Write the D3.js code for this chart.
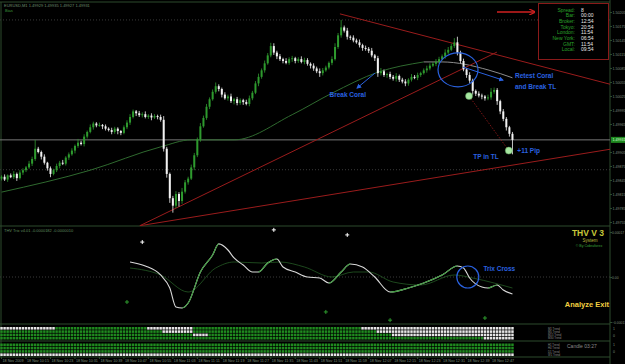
<!DOCTYPE html>
<html>
<head>
<meta charset="utf-8">
<script src="https://cdn.jsdelivr.net/npm/d3@7"></script>
<style>
  body { margin: 0; background: #000; }
  svg { display: block; font-family: "Liberation Sans", Arial, sans-serif; }
</style>
</head>
<body>
<div id="chart"></div>
<script>
// EURUSD M1 candles (open = previous close)
const firstOpen = 1.49848;
const closes = [
  1.49852, 1.49846, 1.49855, 1.49851, 1.49858, 1.49849, 1.49861, 1.49866, 1.49872, 1.49880,
  1.49890, 1.49912, 1.49905, 1.49895, 1.49882, 1.49870, 1.49858, 1.49866, 1.49875, 1.49882,
  1.49880, 1.49893, 1.49900, 1.49908, 1.49918, 1.49925, 1.49922, 1.49938, 1.49948, 1.49958,
  1.49966, 1.49962, 1.49963, 1.49960, 1.49955, 1.49952, 1.49948, 1.49955, 1.49950, 1.49946,
  1.49958, 1.49968, 1.49980, 1.49992, 1.49988, 1.49984, 1.49986, 1.49980, 1.49983, 1.49979,
  1.49982, 1.49980, 1.49974, 1.49912, 1.49858, 1.49806, 1.49790, 1.49815, 1.49800, 1.49820,
  1.49840, 1.49848, 1.49872, 1.49898, 1.49932, 1.49960, 1.49978, 1.50002, 1.50018, 1.50034,
  1.50046, 1.50040, 1.50028, 1.50020, 1.50024, 1.50014, 1.50018, 1.50010, 1.50016, 1.50012,
  1.50008, 1.50020, 1.50032, 1.50052, 1.50066, 1.50080, 1.50095, 1.50112, 1.50132, 1.50118,
  1.50110, 1.50104, 1.50100, 1.50096, 1.50104, 1.50106, 1.50100, 1.50104, 1.50098, 1.50102,
  1.50094, 1.50090, 1.50084, 1.50078, 1.50074, 1.50080, 1.50086, 1.50096, 1.50104, 1.50130,
  1.50155, 1.50172, 1.50165, 1.50152, 1.50150, 1.50144, 1.50140, 1.50134, 1.50128, 1.50126,
  1.50122, 1.50112, 1.50106, 1.50074, 1.50078, 1.50070, 1.50072, 1.50066, 1.50062, 1.50068,
  1.50060, 1.50056, 1.50052, 1.50060, 1.50066, 1.50064, 1.50070, 1.50074, 1.50080, 1.50084,
  1.50090, 1.50094, 1.50098, 1.50104, 1.50110, 1.50118, 1.50124, 1.50132, 1.50140, 1.50118,
  1.50100, 1.50082, 1.50070, 1.50058, 1.50036, 1.50030, 1.50026, 1.50024, 1.50020, 1.50022,
  1.50034, 1.50038, 1.50014, 1.49992, 1.49976, 1.49958, 1.49944, 1.49931
];
// wick lengths beyond the body, in points (0.00001)
const wickUp = [
  3,5,2,4,6,3,5,4,3,6, 5,19,4,3,5,2,4,3,5,4, 6,3,4,5,3,8,4,5,3,6, 4,3,5,2,4,3,5,4,3,2,
  4,5,6,4,3,5,4,6,3,5, 4,3,5,8,4,3,5,6,4,8, 5,4,6,5,4,7,5,6,4,5, 8,4,3,5,4,6,3,5,4,3,
  5,6,4,5,7,4,6,5,7,6, 4,5,3,6,4,5,3,4,6,5, 4,3,5,4,6,5,4,3,6,8, 5,16,4,6,3,5,4,6,3,5,
  4,6,3,5,7,4,3,5,4,6, 3,4,5,3,6,4,5,3,4,6, 5,4,6,5,4,7,6,5,9,12, 4,5,3,6,4,3,5,4,3,6,
  8,5,4,3,5,4,3,4
];
const wickDn = [
  4,3,5,2,4,6,3,5,4,3, 5,4,3,6,4,5,7,3,4,5, 3,4,5,3,6,4,3,5,4,3, 5,4,3,6,4,3,5,4,7,5,
  3,4,5,3,6,4,5,3,4,6, 3,5,4,6,8,10,15,5,12,6, 4,5,3,6,4,5,3,4,5,3, 4,5,6,3,5,4,7,5,4,6,
  3,5,4,3,6,4,5,3,4,5, 6,4,5,3,4,6,5,4,3,5, 4,6,5,4,8,5,3,4,5,3, 4,5,4,6,5,4,3,5,6,4,
  5,4,6,8,5,4,6,5,4,6, 5,4,6,5,4,3,5,4,3,5, 4,3,5,4,3,5,4,3,4,6, 5,4,6,5,8,5,4,6,5,4,
  5,4,8,6,5,7,6,31
];

// Coral (moving average) key points: bar index / price
const coralIdx = [0, 29, 52, 62, 76, 95, 108, 123, 138, 144, 159, 167];
const coralVal = [1.49819, 1.49866, 1.49916, 1.49931, 1.49931, 1.49985, 1.50031, 1.50076, 1.50098, 1.50098, 1.50081, 1.50064];
const coralTurn = 138;

const priceTicks = [1.50205, 1.50175, 1.50145, 1.50115, 1.50085, 1.50055, 1.50025, 1.49995,
  1.49965, 1.49905, 1.49875, 1.49845, 1.49815, 1.49785, 1.49755];
const lastPrice = 1.49931;
const levels = [1.50188, 1.49867];

// trend lines: [idx1, price1, idx2, price2]
const redLines = [
  [45.2, 1.49747, 161.9, 1.50119],
  [45.2, 1.49747, 203.7, 1.49916],
  [110.6, 1.50201, 203.7, 1.50042]
];
const tpLine = [152.8, 1.50025, 165.8, 1.49908];

// THV Trix indicator
const trixIdx = [42, 47, 52, 55, 57, 59, 61, 65, 69, 71, 74, 76, 79, 82, 84, 87, 90, 92, 96, 100,
  104, 107, 111, 114, 118, 122, 127, 133, 138, 144, 149, 151, 153, 157, 159, 162, 164, 167];
const trixMain = [0.0000567, 0.0000416, 0.0000076, -0.0000416, -0.000113, -0.000117, -0.0000983,
  0.0000189, 0.0000832, 0.000125, 0.000102, 0.0000718, 0.0000454, 0.0000189, 0.0000189, 0.0000529,
  0.000068, 0.0000378, 0.0000189, 0, -0.0000038, -0.0000227, 0.0000189, 0.0000491, 0.0000378, 0,
  -0.0000567, -0.0000416, -0.0000227, 0.0000076, 0.0000416, 0.000034, -0.0000038, -0.0000378,
  -0.0000416, -0.0000302, -0.0000491, -0.0000643];
const sigIdx = [42, 52, 61, 70, 76, 85, 91, 99, 108, 115, 120, 128, 137, 148, 154, 161, 167];
const trixSignal = [0.000034, 0.0000076, -0.0000567, 0.000034, 0.0000567, 0.0000529, 0.0000567,
  0.0000378, 0, 0.0000189, 0.0000189, -0.0000189, -0.0000302, 0.0000076, -0.0000038, -0.0000227, -0.0000416];
const plusWhite = [[46, 0.000132], [89, 0.000178], [113, 0.000159]];
const plusGreen = [[41, -0.0000945], [106, -0.000132], [127, -0.000163], [158, -0.000155]];
const trixTicks = [0.00017, 0, -0.00017];

// multi-timeframe bars: runs of [state, count]
const upperRows = [
  [["w", 18], ["g", 30], ["w", 15], ["g", 55], ["w", 50]],
  [["g", 53], ["w", 10], ["g", 60], ["w", 45]],
  [["g", 63], ["w", 5], ["g", 60], ["w", 40]],
  [["g", 158], ["w", 10]]
];
const lowerRows = [
  [["g", 168]],
  [["g", 168]],
  [["g", 168]],
  [["w", 168]]
];
const upperNames = ["M1 Trend", "M5 Trend", "M15 Trend", "M30 Trend"];
const lowerNames = ["H1 Trend", "H4 Trend", "D1 Trend", "W1 Trend"];

const timeLabels = ["18 Nov 2009", "18 Nov 10:15", "18 Nov 10:23", "18 Nov 10:31", "18 Nov 10:39",
  "18 Nov 10:47", "18 Nov 10:55", "18 Nov 11:03", "18 Nov 11:11", "18 Nov 11:19", "18 Nov 11:27",
  "18 Nov 11:35", "18 Nov 11:43", "18 Nov 11:51", "18 Nov 11:59", "18 Nov 12:07", "18 Nov 12:15",
  "18 Nov 12:23", "18 Nov 12:31", "18 Nov 12:39", "18 Nov 12:47"];
const timeEvery = 8;

const infoLabels = ["Spread", "Bar", "Broker", "Tokyo", "London", "New York", "GMT", "Local"];
const infoValues = ["8", "00:00", "12:54", "20:54", "11:54", "06:54", "11:54", "09:54"];

// ---------- layout ----------
const W = 625, H = 364, plotR = 610;
const mainTop = 3, mainBot = 226, trixBot = 324;
const frame = "#2c4a2c";
const bull = "#2e9a2e", bear = "#f2f2f2", red = "#9a1c1c", blue = "#2a62e0";

const svg = d3.select("#chart").append("svg")
  .attr("width", W).attr("height", H)
  .style("background", "#000");

const N = closes.length;
const x = d3.scaleLinear().domain([-0.5, N - 0.5]).range([0, 514]);
const y = d3.scaleLinear().domain([1.49755, 1.50205]).range([222, 12]);
const yT = d3.scaleLinear().domain([0, 0.00017]).range([277, 232]);

const defs = svg.append("defs");
defs.append("clipPath").attr("id", "mainClip")
  .append("rect").attr("x", 0).attr("y", mainTop).attr("width", plotR).attr("height", mainBot - mainTop);
defs.append("marker").attr("id", "arrow").attr("viewBox", "0 0 10 10")
  .attr("refX", 8).attr("refY", 5).attr("markerWidth", 5).attr("markerHeight", 5)
  .attr("orient", "auto")
  .append("path").attr("d", "M0,0L10,5L0,10Z").attr("fill", blue);
defs.append("marker").attr("id", "arrowRed").attr("viewBox", "0 0 10 10")
  .attr("refX", 8).attr("refY", 5).attr("markerWidth", 5).attr("markerHeight", 5)
  .attr("orient", "auto")
  .append("path").attr("d", "M0,0L10,5L0,10").attr("fill", "none").attr("stroke", "#d02020").attr("stroke-width", 2);

// frames
[[0, 2, plotR, 2], [0, mainBot, plotR, mainBot], [0, trixBot, plotR, trixBot], [0, 341, plotR, 341],
 [0, 357, plotR, 357], [plotR, 0, plotR, H], [1, 2, 1, 357]].forEach(l => {
  svg.append("line").attr("x1", l[0]).attr("y1", l[1]).attr("x2", l[2]).attr("y2", l[3])
    .attr("stroke", frame).attr("stroke-width", 1);
});

// ---------- main chart ----------
const main = svg.append("g").attr("clip-path", "url(#mainClip)");

main.selectAll(".lvl").data(levels).enter().append("line")
  .attr("x1", 0).attr("x2", plotR).attr("y1", d => y(d)).attr("y2", d => y(d))
  .attr("stroke", "#3a3a3a").attr("stroke-dasharray", "1,2");

main.append("line").attr("x1", 0).attr("x2", plotR)
  .attr("y1", y(lastPrice)).attr("y2", y(lastPrice))
  .attr("stroke", "#777").attr("stroke-width", 1);

const coralPts = coralIdx.map((d, k) => [d, coralVal[k]]);
const coralLine = d3.line().x(d => x(d[0])).y(d => y(d[1])).curve(d3.curveMonotoneX);
main.append("path").attr("d", coralLine(coralPts.filter(d => d[0] <= coralTurn)))
  .attr("fill", "none").attr("stroke", "#2f6a2f").attr("stroke-width", 1);
main.append("path").attr("d", coralLine(coralPts.filter(d => d[0] >= coralTurn)))
  .attr("fill", "none").attr("stroke", "#8c8c8c").attr("stroke-width", 1);

main.selectAll(".tl").data(redLines).enter().append("line")
  .attr("x1", d => x(d[0])).attr("y1", d => y(d[1]))
  .attr("x2", d => x(d[2])).attr("y2", d => y(d[3]))
  .attr("stroke", red).attr("stroke-width", 1);
main.append("line")
  .attr("x1", x(tpLine[0])).attr("y1", y(tpLine[1]))
  .attr("x2", x(tpLine[2])).attr("y2", y(tpLine[3]))
  .attr("stroke", red).attr("stroke-width", 0.8).attr("stroke-dasharray", "1.5,1.5");

const candles = closes.map((c, i) => {
  const o = i === 0 ? firstOpen : closes[i - 1];
  return { i, o, c, h: Math.max(o, c) + wickUp[i] * 1e-5, l: Math.min(o, c) - wickDn[i] * 1e-5 };
});
const cg = main.append("g");
cg.selectAll(".wick").data(candles).enter().append("line")
  .attr("x1", d => x(d.i)).attr("x2", d => x(d.i))
  .attr("y1", d => y(d.h)).attr("y2", d => y(d.l))
  .attr("stroke", d => d.c >= d.o ? bull : bear).attr("stroke-width", 0.8);
cg.selectAll(".body").data(candles).enter().append("rect")
  .attr("x", d => x(d.i) - 1).attr("width", 2)
  .attr("y", d => y(Math.max(d.o, d.c)))
  .attr("height", d => Math.max(1, Math.abs(y(d.o) - y(d.c))))
  .attr("fill", d => d.c >= d.o ? bull : bear);

// annotations
main.append("ellipse").attr("cx", x(149.2)).attr("cy", y(1.50081)).attr("rx", 20).attr("ry", 17)
  .attr("fill", "none").attr("stroke", blue).attr("stroke-width", 1.2);
[[122.05, 1.50074, 116.2, 1.50042], [150.8, 1.50087, 163.9, 1.50059]].forEach(a => {
  main.append("line").attr("x1", x(a[0])).attr("y1", y(a[1])).attr("x2", x(a[2])).attr("y2", y(a[3]))
    .attr("stroke", blue).attr("stroke-width", 1).attr("marker-end", "url(#arrow)");
});
[[tpLine[0], tpLine[1]], [tpLine[2], tpLine[3]]].forEach(p => {
  main.append("circle").attr("cx", x(p[0])).attr("cy", y(p[1])).attr("r", 3.5)
    .attr("fill", "#a6e6a0").attr("stroke", "#5aa05a").attr("stroke-width", 0.5);
});
const note = (txt, px, py) => svg.append("text").attr("x", px).attr("y", py).text(txt)
  .attr("fill", blue).attr("font-size", 6.5).attr("font-weight", "bold");
note("Break Coral", x(107.2), y(1.50022));
note("Retest Coral", x(167.5) + 1, y(1.50063));
note("and Break TL", x(167.5) + 1, y(1.50041));
note("TP in TL", x(154.2), y(1.49890));
note("+11 Pip", x(168.6), y(1.49903));

svg.append("text").attr("x", 4).attr("y", 7).text("EURUSD,M1  1.49929 1.49935 1.49927 1.49931")
  .attr("fill", "#6f8f6f").attr("font-size", 4);
svg.append("text").attr("x", 5).attr("y", 12).text("Bias").attr("fill", "#3c9a3c").attr("font-size", 4);

// price axis
const yAxis = svg.append("g").attr("transform", `translate(${plotR},0)`)
  .call(d3.axisRight(y).tickValues(priceTicks).tickSize(2).tickFormat(d3.format(".5f")));
yAxis.select(".domain").remove();
yAxis.selectAll("line").attr("stroke", frame);
yAxis.selectAll("text").attr("fill", "#7d8f7d").attr("font-size", 3.6).attr("x", 2.5);
svg.append("rect").attr("x", plotR + 1).attr("y", y(lastPrice) - 3).attr("width", 14).attr("height", 6)
  .attr("fill", "#1f8a1f");
svg.append("text").attr("x", plotR + 2.5).attr("y", y(lastPrice) + 1.3).text(d3.format(".5f")(lastPrice))
  .attr("fill", "#d8ffd8").attr("font-size", 3.6);

// info box + red arrow
svg.append("line").attr("x1", 497).attr("y1", 12).attr("x2", 534).attr("y2", 12)
  .attr("stroke", "#d02020").attr("stroke-width", 1.3).attr("marker-end", "url(#arrowRed)");
svg.append("rect").attr("x", 538.5).attr("y", 3.5).attr("width", 70).attr("height", 56)
  .attr("fill", "#000").attr("stroke", "#8a1a1a").attr("stroke-width", 1);
infoLabels.forEach((t, k) => {
  svg.append("text").attr("x", 575).attr("y", 11.5 + k * 5.7).attr("text-anchor", "end")
    .text(t + ":").attr("fill", "#2aa02a").attr("font-size", 5);
  svg.append("text").attr("x", 581).attr("y", 11.5 + k * 5.7)
    .text(infoValues[k]).attr("fill", "#e8e8e8").attr("font-size", 5);
});

// ---------- THV Trix panel ----------
const trix = svg.append("g");
trix.append("line").attr("x1", 0).attr("x2", plotR).attr("y1", yT(0)).attr("y2", yT(0))
  .attr("stroke", "#3a3a3a").attr("stroke-dasharray", "1,2");
svg.append("text").attr("x", 4).attr("y", 232).text("THV Trix v4.01  -0.0000182  -0.0000010")
  .attr("fill", "#5f8a5f").attr("font-size", 4);

const tLine = d3.line().x(d => x(d[0])).y(d => yT(d[1])).curve(d3.curveMonotoneX);
trix.append("path").attr("d", tLine(sigIdx.map((d, k) => [d, trixSignal[k]])))
  .attr("fill", "none").attr("stroke", "#245a24").attr("stroke-width", 0.8);
const mainPts = trixIdx.map((d, k) => [d, trixMain[k]]);
trix.append("path").attr("d", tLine(mainPts))
  .attr("fill", "none").attr("stroke", "#d8d8d8").attr("stroke-width", 1.1);
const upClip = defs.append("clipPath").attr("id", "trixUp");
mainPts.forEach((p, k) => {
  if (k < mainPts.length - 1 && mainPts[k + 1][1] > p[1]) {
    upClip.append("rect").attr("x", x(p[0])).attr("y", 226)
      .attr("width", x(mainPts[k + 1][0]) - x(p[0])).attr("height", 98);
  }
});
trix.append("path").attr("d", tLine(mainPts)).attr("clip-path", "url(#trixUp)")
  .attr("fill", "none").attr("stroke", "#3a9a3a").attr("stroke-width", 1.1);

const plus = (list, color) => list.forEach(p => {
  trix.append("path")
    .attr("d", `M${x(p[0]) - 2},${yT(p[1])}h4M${x(p[0])},${yT(p[1]) - 2}v4`)
    .attr("stroke", color).attr("stroke-width", 1);
});
plus(plusWhite, "#ffffff");
plus(plusGreen, "#2e9a2e");

trix.append("circle").attr("cx", x(152.4)).attr("cy", yT(0)).attr("r", 11)
  .attr("fill", "none").attr("stroke", blue).attr("stroke-width", 1.2);
svg.append("text").attr("x", x(157.5)).attr("y", yT(0.0000245)).text("Trix Cross")
  .attr("fill", blue).attr("font-size", 6.5).attr("font-weight", "bold");

const tAxis = svg.append("g").attr("transform", `translate(${plotR},0)`)
  .call(d3.axisRight(yT).tickValues(trixTicks).tickSize(2)
    .tickFormat(d => d === 0 ? "0.00" : d3.format(".5f")(d)));
tAxis.select(".domain").remove();
tAxis.selectAll("line").attr("stroke", frame);
tAxis.selectAll("text").attr("fill", "#7d8f7d").attr("font-size", 3.4).attr("x", 2);

svg.append("text").attr("x", 604).attr("y", 236).attr("text-anchor", "end").text("THV V 3")
  .attr("fill", "#c8c83a").attr("font-size", 8.5).attr("font-weight", "bold");
svg.append("text").attr("x", 590).attr("y", 241.5).attr("text-anchor", "middle").text("System")
  .attr("fill", "#b8b83a").attr("font-size", 4.5);
svg.append("text").attr("x", 589).attr("y", 247).attr("text-anchor", "middle").text("\u00a9 By Cobraforex")
  .attr("fill", "#3aa03a").attr("font-size", 3.6);
svg.append("text").attr("x", 609).attr("y", 307).attr("text-anchor", "end").text("Analyze Exit")
  .attr("fill", "#f2d040").attr("font-size", 7.5).attr("font-weight", "bold");

// ---------- MTF bar panels ----------
const expand = runs => runs.flatMap(r => Array(r[1]).fill(r[0]));
const step = x(1) - x(0);
const drawRows = (rows, top, names) => {
  rows.forEach((runs, r) => {
    const yy = top + r * 3.3;
    svg.append("g").selectAll("rect").data(expand(runs)).enter().append("rect")
      .attr("x", (d, i) => x(i) - step / 2 + 0.3).attr("y", yy)
      .attr("width", step - 0.6).attr("height", 2.6)
      .attr("fill", d => d === "w" ? "#e6e6e6" : "#1f8a1f");
    svg.append("text").attr("x", 548).attr("y", yy + 2.5).text(names[r])
      .attr("fill", "#8a8a8a").attr("font-size", 2.8);
  });
};
drawRows(upperRows, 327, upperNames);
drawRows(lowerRows, 343.5, lowerNames);
svg.append("text").attr("x", 567).attr("y", 347.5).text("Candle   03:27")
  .attr("fill", "#8a8a8a").attr("font-size", 5);
[330, 337, 346, 353].forEach((yy, k) => {
  svg.append("text").attr("x", 613).attr("y", yy).text(k % 2 ? "0" : "1")
    .attr("fill", "#7d8f7d").attr("font-size", 3.5);
});

// time axis
svg.append("g").selectAll("text").data(timeLabels).enter().append("text")
  .attr("x", (d, k) => x(k * timeEvery) + 1).attr("y", 362).text(d => d)
  .attr("fill", "#7d8f7d").attr("font-size", 3.7);
svg.append("g").selectAll("line").data(timeLabels).enter().append("line")
  .attr("x1", (d, k) => x(k * timeEvery)).attr("x2", (d, k) => x(k * timeEvery))
  .attr("y1", 357).attr("y2", 359).attr("stroke", frame);
</script>
</body>
</html>
